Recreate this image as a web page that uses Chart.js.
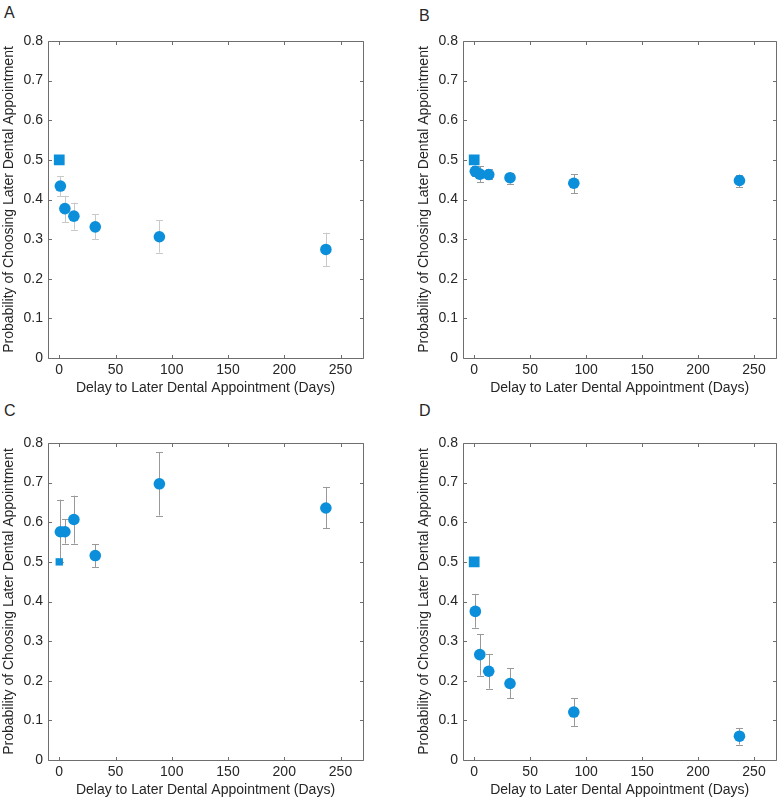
<!DOCTYPE html>
<html>
<head>
<meta charset="utf-8">
<script src="https://cdn.jsdelivr.net/npm/chart.js@4.4.1/dist/chart.umd.min.js"></script>
<style>
  html, body { margin: 0; padding: 0; background: #ffffff; }
  body { width: 784px; height: 802px; position: relative; overflow: hidden; font-family: 'Liberation Sans', Arial, sans-serif; }
  .panel { position: absolute; }
  .lbl { position: absolute; font-size: 16px; line-height: 16px; color: #262626; font-family: 'Liberation Sans', Arial, sans-serif; }
</style>
</head>
<body>
<div class="lbl" style="left:4px;top:5px;">A</div>
<div class="lbl" style="left:419px;top:8px;">B</div>
<div class="lbl" style="left:4px;top:403px;">C</div>
<div class="lbl" style="left:419px;top:403px;">D</div>

<div class="panel" style="left:0px;top:0px;width:392px;height:400px;"><canvas id="cA"></canvas></div>
<div class="panel" style="left:392px;top:0px;width:392px;height:400px;"><canvas id="cB"></canvas></div>
<div class="panel" style="left:0px;top:400px;width:392px;height:402px;"><canvas id="cC"></canvas></div>
<div class="panel" style="left:392px;top:400px;width:392px;height:402px;"><canvas id="cD"></canvas></div>

<script>
// ---- Data ----
const delays = [1, 5, 13, 32, 89, 237];
const controlX = [0];
const controlY = [0.5];

const meanA = [0.434, 0.377, 0.358, 0.331, 0.306, 0.274];
const lowA  = [0.409, 0.343, 0.324, 0.300, 0.266, 0.231];
const highA = [0.459, 0.409, 0.392, 0.363, 0.348, 0.316];

const meanB = [0.471, 0.464, 0.463, 0.455, 0.441, 0.448];
const lowB  = [0.459, 0.443, 0.452, 0.440, 0.416, 0.431];
const highB = [0.484, 0.484, 0.476, 0.468, 0.464, 0.463];

const meanC = [0.576, 0.576, 0.607, 0.516, 0.697, 0.636];
const lowC  = [0.500, 0.546, 0.546, 0.486, 0.617, 0.585];
const highC = [0.657, 0.607, 0.667, 0.545, 0.777, 0.689];

const meanD = [0.375, 0.266, 0.224, 0.193, 0.121, 0.060];
const lowD  = [0.334, 0.213, 0.180, 0.156, 0.086, 0.039];
const highD = [0.419, 0.318, 0.268, 0.232, 0.156, 0.081];

const xTicks = [0, 50, 100, 150, 200, 250];
const yTicks = [0, 0.1, 0.2, 0.3, 0.4, 0.5, 0.6, 0.7, 0.8];
const xTitle = 'Delay to Later Dental Appointment (Days)';
const yTitle = 'Probability of Choosing Later Dental Appointment';

// ---- Styling ----
const FONT = "'Liberation Sans', Arial, sans-serif";
const TXT = '#262626';
const BLUE = '#0b8fda';
const FRAME = '#6e6e6e';

const errorBarPlugin = {
  id: 'errorBars',
  beforeDatasetsDraw(chart, args, opts) {
    const ctx = chart.ctx;
    const xs = chart.scales.x, ys = chart.scales.y;
    const d = opts.data;
    if (!d) return;
    ctx.save();
    ctx.strokeStyle = opts.color;
    ctx.lineWidth = 1;
    for (let i = 0; i < d.x.length; i++) {
      const px = Math.round(xs.getPixelForValue(d.x[i])) + 0.5;
      const pl = ys.getPixelForValue(d.low[i]);
      const ph = ys.getPixelForValue(d.high[i]);
      const cap = 3.5;
      ctx.beginPath();
      ctx.moveTo(px, pl); ctx.lineTo(px, ph);
      ctx.moveTo(px - cap, Math.round(pl) + 0.5); ctx.lineTo(px + cap, Math.round(pl) + 0.5);
      ctx.moveTo(px - cap, Math.round(ph) + 0.5); ctx.lineTo(px + cap, Math.round(ph) + 0.5);
      ctx.stroke();
    }
    ctx.restore();
  }
};

const framePlugin = {
  id: 'frameTicks',
  afterDraw(chart) {
    const ctx = chart.ctx;
    const a = chart.chartArea;
    const xs = chart.scales.x, ys = chart.scales.y;
    const L = Math.round(a.left) + 0.5, R = Math.round(a.right) + 0.5;
    const T = Math.round(a.top) + 0.5, B = Math.round(a.bottom) + 0.5;
    const tl = 3.5;
    ctx.save();
    ctx.strokeStyle = FRAME;
    ctx.lineWidth = 1;
    ctx.beginPath();
    ctx.rect(L, T, R - L, B - T);
    xs.ticks.forEach(t => {
      const px = Math.round(xs.getPixelForValue(t.value)) + 0.5;
      ctx.moveTo(px, B); ctx.lineTo(px, B - tl);
      ctx.moveTo(px, T); ctx.lineTo(px, T + tl);
    });
    ys.ticks.forEach(t => {
      const py = Math.round(ys.getPixelForValue(t.value)) + 0.5;
      ctx.moveTo(L, py); ctx.lineTo(L + tl, py);
      ctx.moveTo(R, py); ctx.lineTo(R - tl, py);
    });
    ctx.stroke();
    ctx.restore();
  }
};

function makePanel(id, geom, mean, low, high, errColor, squareRadius) {
  const ctx = document.getElementById(id);
  const Wy = 47, Hx = 39;
  const padding = {
    left: geom.L - geom.ox - Wy,
    top: geom.T - geom.oy,
    right: geom.ox + geom.w - geom.R,
    bottom: geom.h - (geom.B - geom.oy) - Hx
  };
  return new Chart(ctx, {
    type: 'scatter',
    data: {
      datasets: [
        {
          label: 'Delayed',
          data: delays.map((x, i) => ({ x: x, y: mean[i] })),
          backgroundColor: BLUE,
          borderWidth: 0,
          pointRadius: 5.8,
          pointHoverRadius: 5.8,
          pointStyle: 'circle'
        },
        {
          label: 'Control',
          data: controlX.map((x, i) => ({ x: x, y: controlY[i] })),
          backgroundColor: BLUE,
          borderWidth: 0,
          pointRadius: squareRadius,
          pointHoverRadius: squareRadius,
          pointStyle: 'rect'
        }
      ]
    },
    options: {
      responsive: true,
      maintainAspectRatio: false,
      animation: false,
      events: [],
      layout: { padding: padding },
      plugins: {
        legend: { display: false },
        tooltip: { enabled: false },
        errorBars: { data: { x: delays, low: low, high: high }, color: errColor }
      },
      scales: {
        x: {
          type: 'linear',
          min: -10, max: 270,
          afterBuildTicks: s => { s.ticks = xTicks.map(v => ({ value: v })); },
          afterFit: s => { s.height = Hx; },
          grid: { display: false, drawTicks: false },
          border: { display: false },
          ticks: { padding: 4, color: TXT, font: { family: FONT, size: 14 }, maxRotation: 0, autoSkip: false },
          title: { display: true, text: xTitle, color: TXT, font: { family: FONT, size: 14 }, padding: 0 }
        },
        y: {
          type: 'linear',
          min: 0, max: 0.8,
          afterBuildTicks: s => { s.ticks = yTicks.map(v => ({ value: v })); },
          afterFit: s => { s.width = Wy; },
          grid: { display: false, drawTicks: false },
          border: { display: false },
          ticks: {
            padding: 5, color: TXT, font: { family: FONT, size: 14 }, autoSkip: false,
            callback: v => (v === 0 ? '0' : Number(v).toFixed(1))
          },
          title: { display: true, text: yTitle, color: TXT, font: { family: FONT, size: 14 }, padding: 0 }
        }
      }
    },
    plugins: [errorBarPlugin, framePlugin]
  });
}

makePanel('cA', { ox: 0, oy: 0, w: 392, h: 400, L: 48, T: 41, R: 363, B: 358 }, meanA, lowA, highA, '#c9c9c9', 7.6);
makePanel('cB', { ox: 392, oy: 0, w: 392, h: 400, L: 463, T: 41, R: 779, B: 358 }, meanB, lowB, highB, '#999999', 7.6);
makePanel('cC', { ox: 0, oy: 400, w: 392, h: 402, L: 48, T: 443, R: 363, B: 760 }, meanC, lowC, highC, '#999999', 5.2);
makePanel('cD', { ox: 392, oy: 400, w: 392, h: 402, L: 463, T: 443, R: 779, B: 760 }, meanD, lowD, highD, '#999999', 7.6);
</script>
</body>
</html>
